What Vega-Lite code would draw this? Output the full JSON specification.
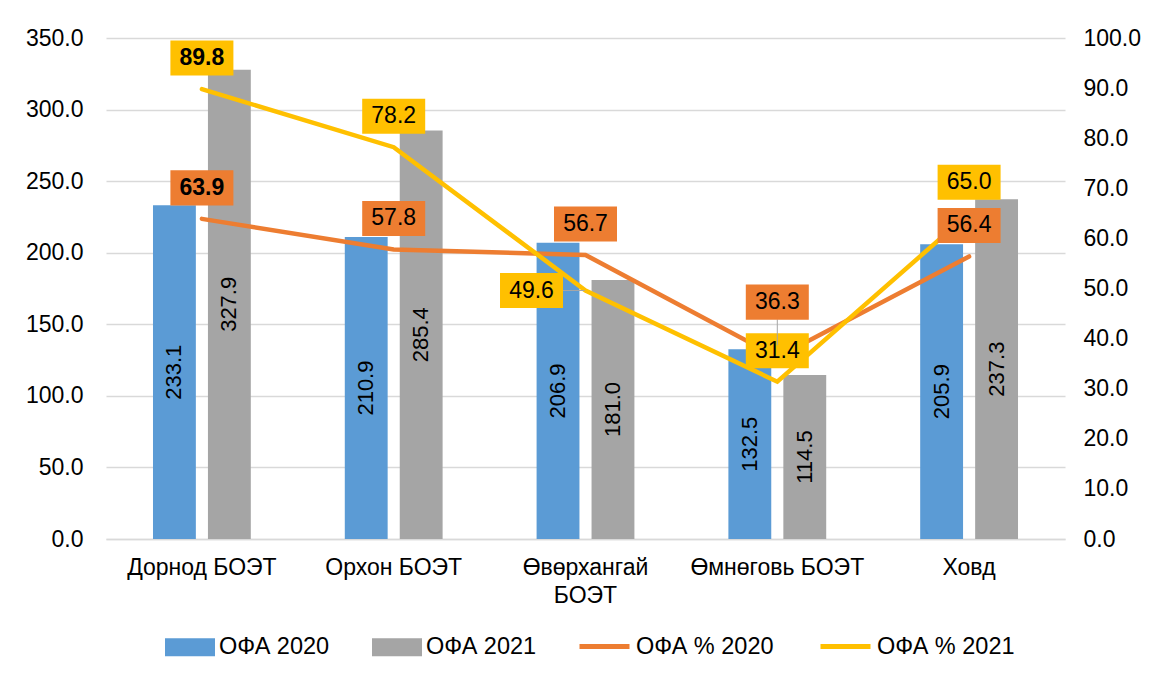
{
  "$schema": "https://vega.github.io/schema/vega-lite/v6.json",
  "width": 959,
  "height": 501,
  "autosize": {"type": "none"},
  "padding": {"left": 106, "top": 38, "right": 90, "bottom": 138},
  "background": "white",
  "config": {
    "font": "Liberation Sans",
    "view": {"stroke": null},
    "axis": {"labelFontSize": 23, "labelColor": "#000000", "labelFont": "Liberation Sans", "ticks": false, "title": null},
    "legend": {"labelFontSize": 23.5, "labelColor": "#000000", "labelFont": "Liberation Sans", "title": null}
  },
  "datasets": {
    "ofa": [
      {"region": "Дорнод БОЭТ", "series": "ОФА 2020", "value": 233.1},
      {"region": "Дорнод БОЭТ", "series": "ОФА 2021", "value": 327.9},
      {"region": "Орхон БОЭТ", "series": "ОФА 2020", "value": 210.9},
      {"region": "Орхон БОЭТ", "series": "ОФА 2021", "value": 285.4},
      {"region": "Өвөрхангай БОЭТ", "series": "ОФА 2020", "value": 206.9},
      {"region": "Өвөрхангай БОЭТ", "series": "ОФА 2021", "value": 181.0},
      {"region": "Өмнөговь БОЭТ", "series": "ОФА 2020", "value": 132.5},
      {"region": "Өмнөговь БОЭТ", "series": "ОФА 2021", "value": 114.5},
      {"region": "Ховд", "series": "ОФА 2020", "value": 205.9},
      {"region": "Ховд", "series": "ОФА 2021", "value": 237.3}
    ],
    "pct": [
      {"region": "Дорнод БОЭТ", "series": "ОФА % 2020", "value": 63.9},
      {"region": "Орхон БОЭТ", "series": "ОФА % 2020", "value": 57.8},
      {"region": "Өвөрхангай БОЭТ", "series": "ОФА % 2020", "value": 56.7},
      {"region": "Өмнөговь БОЭТ", "series": "ОФА % 2020", "value": 36.3},
      {"region": "Ховд", "series": "ОФА % 2020", "value": 56.4},
      {"region": "Дорнод БОЭТ", "series": "ОФА % 2021", "value": 89.8},
      {"region": "Орхон БОЭТ", "series": "ОФА % 2021", "value": 78.2},
      {"region": "Өвөрхангай БОЭТ", "series": "ОФА % 2021", "value": 49.6},
      {"region": "Өмнөговь БОЭТ", "series": "ОФА % 2021", "value": 31.4},
      {"region": "Ховд", "series": "ОФА % 2021", "value": 65.0}
    ]
  },
  "layer": [
    {
      "data": {"name": "ofa"},
      "mark": {"type": "bar"},
      "encoding": {
        "x": {
          "field": "region",
          "type": "nominal",
          "sort": null,
          "scale": {
            "domain": ["Дорнод БОЭТ", "Орхон БОЭТ", "Өвөрхангай БОЭТ", "Өмнөговь БОЭТ", "Ховд"],
            "paddingInner": 0.49,
            "paddingOuter": 0.245
          },
          "axis": {
            "orient": "bottom",
            "labelAngle": 0,
            "labelPadding": 17,
            "labelLimit": 400,
            "labelLineHeight": 28,
            "labelExpr": "datum.value == 'Өвөрхангай БОЭТ' ? ['Өвөрхангай', 'БОЭТ'] : datum.label",
            "domain": true,
            "domainColor": "#D9D9D9",
            "domainWidth": 1.5,
            "grid": false
          }
        },
        "xOffset": {"field": "series", "type": "nominal", "scale": {"domain": ["ОФА 2020", "ОФА 2021"], "paddingInner": 0.22, "paddingOuter": 0}},
        "y": {
          "field": "value",
          "type": "quantitative",
          "scale": {"domain": [0, 350], "nice": false},
          "axis": {
            "orient": "left",
            "values": [0, 50, 100, 150, 200, 250, 300, 350],
            "format": ".1f",
            "grid": true,
            "gridColor": "#D9D9D9",
            "gridWidth": 1.3,
            "domain": false,
            "labelPadding": 23
          }
        },
        "color": {
          "field": "series",
          "type": "nominal",
          "scale": {"domain": ["ОФА 2020", "ОФА 2021"], "range": ["#5B9BD5", "#A5A5A5"]},
          "legend": {
            "orient": "none",
            "legendX": 59,
            "legendY": 584,
            "direction": "horizontal",
            "columns": 2,
            "columnPadding": 42,
            "symbolSize": 2500,
            "symbolType": "M-1,-0.36H1V0.36H-1Z",
            "symbolStrokeWidth": 0,
            "labelOffset": 4,
            "labelLimit": 300
          }
        }
      }
    },
    {
      "data": {"name": "ofa"},
      "mark": {"type": "text", "angle": 270, "fontSize": 22, "color": "#000000", "align": "center", "baseline": "middle"},
      "encoding": {
        "x": {"field": "region", "type": "nominal", "sort": null},
        "xOffset": {"field": "series", "type": "nominal", "scale": {"domain": ["ОФА 2020", "ОФА 2021"], "paddingInner": 0.22, "paddingOuter": 0}},
        "y": {"field": "value", "type": "quantitative", "scale": {"domain": [0, 700], "nice": false}, "axis": null},
        "text": {"field": "value", "type": "quantitative", "format": ".1f"}
      }
    },
    {
      "data": {"name": "pct"},
      "mark": {"type": "line", "strokeWidth": 4.5, "strokeCap": "round"},
      "encoding": {
        "x": {"field": "region", "type": "nominal", "sort": null},
        "y": {
          "field": "value",
          "type": "quantitative",
          "scale": {"domain": [0, 100], "nice": false},
          "axis": {
            "orient": "right",
            "values": [0, 10, 20, 30, 40, 50, 60, 70, 80, 90, 100],
            "format": ".1f",
            "grid": false,
            "domain": false,
            "labelPadding": 18
          }
        },
        "stroke": {
          "field": "series",
          "type": "nominal",
          "scale": {"domain": ["ОФА % 2020", "ОФА % 2021"], "range": ["#ED7D31", "#FFC000"]},
          "legend": {
            "orient": "none",
            "legendX": 471,
            "legendY": 581,
            "direction": "horizontal",
            "columns": 2,
            "columnPadding": 36,
            "symbolSize": 2500,
            "symbolType": "stroke",
            "symbolStrokeWidth": 5,
            "labelOffset": 4,
            "labelLimit": 300
          }
        }
      }
    },
    {
      "data": {"name": "pct"},
      "transform": [{"filter": "!((datum.region == 'Өвөрхангай БОЭТ' && datum.series == 'ОФА % 2021') || (datum.region == 'Өмнөговь БОЭТ' && datum.series == 'ОФА % 2020'))"}],
      "mark": {"type": "point", "filled": true, "opacity": 1, "size": 3969, "shape": "M-1,-1.54H1V-0.428H-1Z", "strokeWidth": 0},
      "encoding": {
        "x": {"field": "region", "type": "nominal", "sort": null},
        "y": {"field": "value", "type": "quantitative", "scale": {"domain": [0, 100], "nice": false}, "axis": null},
        "fill": {"condition": {"test": "datum.series == 'ОФА % 2020'", "value": "#ED7D31"}, "value": "#FFC000"}
      }
    },
    {
      "data": {"name": "pct"},
      "transform": [{"filter": "datum.region == 'Өвөрхангай БОЭТ' && datum.series == 'ОФА % 2021'"}],
      "mark": {"type": "point", "filled": false, "opacity": 1, "size": 3969, "shape": "M-0.716,0H-0.03", "stroke": "#A6A6A6", "strokeWidth": 1},
      "encoding": {
        "x": {"field": "region", "type": "nominal", "sort": null},
        "y": {"field": "value", "type": "quantitative", "scale": {"domain": [0, 100], "nice": false}, "axis": null}
      }
    },
    {
      "data": {"name": "pct"},
      "transform": [{"filter": "datum.region == 'Өмнөговь БОЭТ' && datum.series == 'ОФА % 2020'"}],
      "mark": {"type": "point", "filled": false, "opacity": 1, "size": 3969, "shape": "M0,-1.2V-0.38", "stroke": "#A6A6A6", "strokeWidth": 1},
      "encoding": {
        "x": {"field": "region", "type": "nominal", "sort": null},
        "y": {"field": "value", "type": "quantitative", "scale": {"domain": [0, 100], "nice": false}, "axis": null}
      }
    },
    {
      "data": {"name": "pct"},
      "transform": [{"filter": "datum.region == 'Өвөрхангай БОЭТ' && datum.series == 'ОФА % 2021'"}],
      "mark": {"type": "point", "filled": true, "opacity": 1, "size": 3969, "shape": "M-2.714,-0.556H-0.714V0.556H-2.714Z", "strokeWidth": 0, "fill": "#FFC000"},
      "encoding": {
        "x": {"field": "region", "type": "nominal", "sort": null},
        "y": {"field": "value", "type": "quantitative", "scale": {"domain": [0, 100], "nice": false}, "axis": null}
      }
    },
    {
      "data": {"name": "pct"},
      "transform": [{"filter": "datum.region == 'Өмнөговь БОЭТ' && datum.series == 'ОФА % 2020'"}],
      "mark": {"type": "point", "filled": true, "opacity": 1, "size": 3969, "shape": "M-1,-2.302H1V-1.19H-1Z", "strokeWidth": 0, "fill": "#ED7D31"},
      "encoding": {
        "x": {"field": "region", "type": "nominal", "sort": null},
        "y": {"field": "value", "type": "quantitative", "scale": {"domain": [0, 100], "nice": false}, "axis": null}
      }
    },
    {
      "data": {"name": "pct"},
      "transform": [{"filter": "datum.region != 'Дорнод БОЭТ' && !((datum.region == 'Өвөрхангай БОЭТ' && datum.series == 'ОФА % 2021') || (datum.region == 'Өмнөговь БОЭТ' && datum.series == 'ОФА % 2020'))"}],
      "mark": {"type": "text", "fontSize": 23, "color": "#000000", "align": "center", "baseline": "middle", "dy": -31},
      "encoding": {
        "x": {"field": "region", "type": "nominal", "sort": null},
        "y": {"field": "value", "type": "quantitative", "scale": {"domain": [0, 100], "nice": false}, "axis": null},
        "text": {"field": "value", "type": "quantitative", "format": ".1f"}
      }
    },
    {
      "data": {"name": "pct"},
      "transform": [{"filter": "datum.region == 'Дорнод БОЭТ'"}],
      "mark": {"type": "text", "fontSize": 23, "fontWeight": "bold", "color": "#000000", "align": "center", "baseline": "middle", "dy": -31},
      "encoding": {
        "x": {"field": "region", "type": "nominal", "sort": null},
        "y": {"field": "value", "type": "quantitative", "scale": {"domain": [0, 100], "nice": false}, "axis": null},
        "text": {"field": "value", "type": "quantitative", "format": ".1f"}
      }
    },
    {
      "data": {"name": "pct"},
      "transform": [{"filter": "datum.region == 'Өвөрхангай БОЭТ' && datum.series == 'ОФА % 2021'"}],
      "mark": {"type": "text", "fontSize": 23, "color": "#000000", "align": "center", "baseline": "middle", "dx": -54},
      "encoding": {
        "x": {"field": "region", "type": "nominal", "sort": null},
        "y": {"field": "value", "type": "quantitative", "scale": {"domain": [0, 100], "nice": false}, "axis": null},
        "text": {"field": "value", "type": "quantitative", "format": ".1f"}
      }
    },
    {
      "data": {"name": "pct"},
      "transform": [{"filter": "datum.region == 'Өмнөговь БОЭТ' && datum.series == 'ОФА % 2020'"}],
      "mark": {"type": "text", "fontSize": 23, "color": "#000000", "align": "center", "baseline": "middle", "dy": -55},
      "encoding": {
        "x": {"field": "region", "type": "nominal", "sort": null},
        "y": {"field": "value", "type": "quantitative", "scale": {"domain": [0, 100], "nice": false}, "axis": null},
        "text": {"field": "value", "type": "quantitative", "format": ".1f"}
      }
    }
  ],
  "resolve": {"scale": {"y": "independent"}, "axis": {"y": "independent"}}
}
